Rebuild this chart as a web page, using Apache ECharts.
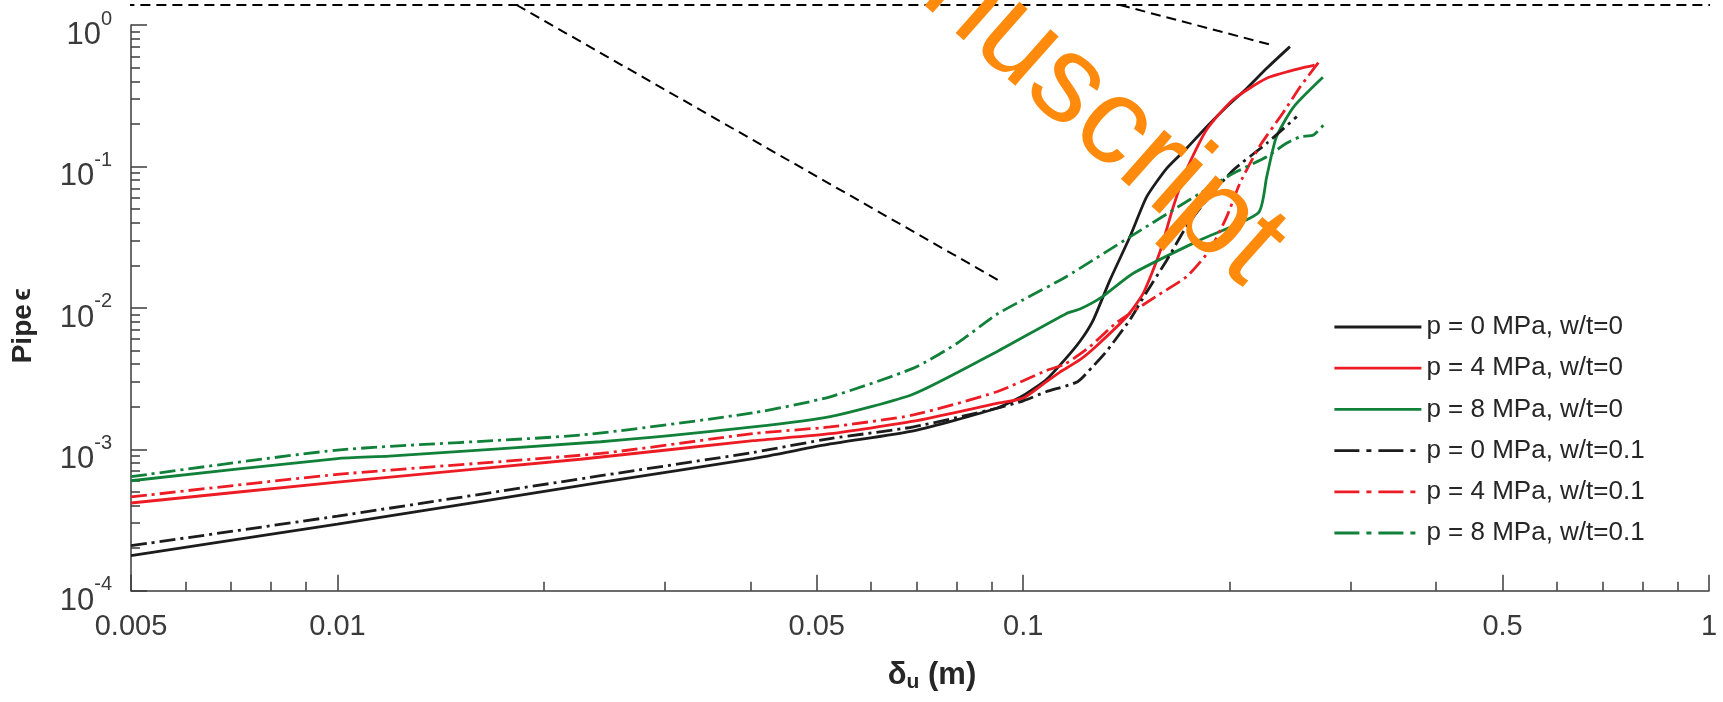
<!DOCTYPE html>
<html><head><meta charset="utf-8">
<script src="https://cdn.jsdelivr.net/npm/echarts@6/dist/echarts.min.js"></script>
<style>html,body{margin:0;padding:0;background:#fff}#c{width:1723px;height:702px}</style>
</head><body><div id="c"></div>
<script>
// ---------- data ----------
const seriesNames = ['p = 0 MPa, w/t=0','p = 4 MPa, w/t=0','p = 8 MPa, w/t=0','p = 0 MPa, w/t=0.1','p = 4 MPa, w/t=0.1','p = 8 MPa, w/t=0.1'];

const p0w0 = [[0.005,1.77e-4],[0.01,2.96e-4],[0.0242,5.83e-4],[0.0404,8.6e-4],[0.0523,1.09e-3],[0.0692,1.35e-3],[0.0915,1.95e-3],[0.1,2.4e-3],[0.108,3.1e-3],[0.115,4.3e-3],[0.121,5.8e-3],[0.1265,8.2e-3],[0.1338,0.0157],[0.1431,0.0318],[0.1514,0.0611],[0.1619,0.097],[0.1731,0.1343],[0.1852,0.191],[0.198,0.264],[0.2118,0.356],[0.2265,0.494],[0.2449,0.703]];
const p4w0 = [[0.005,4.17e-4],[0.01,5.86e-4],[0.0226,8.5e-4],[0.0404,1.15e-3],[0.0523,1.29e-3],[0.0692,1.58e-3],[0.0915,2.11e-3],[0.1,2.3e-3],[0.108,3.0e-3],[0.113,3.5e-3],[0.121,4.3e-3],[0.128,5.4e-3],[0.1415,8.65e-3],[0.1496,0.01265],[0.158,0.0243],[0.1655,0.0519],[0.173,0.0944],[0.185,0.181],[0.202,0.295],[0.2265,0.42],[0.2535,0.494],[0.266,0.521]];
const p8w0 = [[0.005,5.99e-4],[0.01,8.6e-4],[0.0119,8.95e-4],[0.0242,1.13e-3],[0.0404,1.44e-3],[0.0523,1.70e-3],[0.0692,2.46e-3],[0.0915,4.9e-3],[0.1155,9.1e-3],[0.121,9.8e-3],[0.1305,0.012],[0.1445,0.0175],[0.181,0.0302],[0.2203,0.0471],[0.2265,0.0846],[0.234,0.162],[0.248,0.264],[0.2735,0.427]];
const p0w01 = [[0.005,2.08e-4],[0.01,3.37e-4],[0.0242,6.5e-4],[0.0404,9.5e-4],[0.0523,1.19e-3],[0.0692,1.44e-3],[0.0915,1.95e-3],[0.1,2.2e-3],[0.108,2.55e-3],[0.12,3.0e-3],[0.126,3.8e-3],[0.1316,4.78e-3],[0.143,8.2e-3],[0.151,0.0127],[0.162,0.0218],[0.173,0.0375],[0.185,0.0578],[0.2025,0.0944],[0.2265,0.1457],[0.2506,0.225]];
const p4w01 = [[0.005,4.6e-4],[0.01,6.64e-4],[0.0242,9.35e-4],[0.0404,1.29e-3],[0.0523,1.44e-3],[0.0692,1.75e-3],[0.0915,2.55e-3],[0.108,3.6e-3],[0.115,4.0e-3],[0.125,5.3e-3],[0.1365,7.8e-3],[0.156,0.012],[0.173,0.0166],[0.187,0.0256],[0.198,0.044],[0.207,0.076],[0.221,0.138],[0.239,0.2375],[0.2535,0.366],[0.270,0.55]];
const p8w01 = [[0.005,6.4e-4],[0.01,9.87e-4],[0.0226,1.26e-3],[0.0404,1.81e-3],[0.0523,2.35e-3],[0.0692,3.75e-3],[0.08,5.6e-3],[0.0915,9.0e-3],[0.1,0.0114],[0.1155,0.0166],[0.1445,0.0327],[0.181,0.0645],[0.2025,0.0894],[0.2265,0.117],[0.242,0.1457],[0.2535,0.162],[0.265,0.167],[0.2755,0.2017]];

// dashed guide lines (zoom-connector annotation)
const guideTop = [[0.00489,1.385],[1.06,1.385]];
const guideLeft = [[0.01825,1.385],[0.0919,0.01573]];
const guideRight = [[0.1384,1.385],[0.2303,0.722]];

// ticks
const xTickValues = [0.005,0.01,0.05,0.1,0.5,1];
const xTickLabels = ['0.005','0.01','0.05','0.1','0.5','1'];
const xMinorTicks = [0.006,0.007,0.008,0.009,0.02,0.03,0.04,0.06,0.07,0.08,0.09,0.2,0.3,0.4,0.6,0.7,0.8,0.9];
const yTickValues = [1e-4,1e-3,1e-2,1e-1,1];
const yTickExponents = ['-4','-3','-2','-1','0'];
const yMinorTicks = [2e-4,3e-4,4e-4,5e-4,6e-4,7e-4,8e-4,9e-4,2e-3,3e-3,4e-3,5e-3,6e-3,7e-3,8e-3,9e-3,2e-2,3e-2,4e-2,5e-2,6e-2,7e-2,8e-2,9e-2,0.2,0.3,0.4,0.5,0.6,0.7,0.8,0.9];

// ---------- chart ----------
const FONT = '"Liberation Sans", Arial, Helvetica, sans-serif';
const AX = '#3d3d3d';
const BLACK = '#1c1c1c', RED = '#ED1C24', GREEN = '#118039';
const DASHDOT = [16,5,3,5];
const LEG_DASHDOT = [25,7,5,7];
const LW = 2.8;
const colors = [BLACK, RED, GREEN, BLACK, RED, GREEN];
const types = ['solid','solid','solid',DASHDOT,DASHDOT,DASHDOT];
const legTypes = ['solid','solid','solid',LEG_DASHDOT,LEG_DASHDOT,LEG_DASHDOT];
const datas = [p0w0,p4w0,p8w0,p0w01,p4w01,p8w01];

function nearestIdx(arr, v){let b=0,bd=Infinity;arr.forEach((a,i)=>{const d=Math.abs(Math.log10(a)-Math.log10(v));if(d<bd){bd=d;b=i;}});return b;}

const series = datas.map((d,i)=>({
  name: seriesNames[i], type:'line', data:d, symbol:'none', smooth:0.2,
  xAxisIndex:0, yAxisIndex:0,
  lineStyle:{color:colors[i], width:LW, type:types[i]}, itemStyle:{color:colors[i]}, z: 3
}));
[guideTop, guideLeft, guideRight].forEach(g=>series.push({
  type:'line', data:g, symbol:'none', clip:false, silent:true, xAxisIndex:0, yAxisIndex:0,
  lineStyle:{color:'#000', width:2, type:[10,6]}, z: 2
}));

const minorAxisCommon = {
  gridIndex:0, axisLine:{show:false}, axisLabel:{show:false}, splitLine:{show:false},
  axisTick:{show:true, inside:true, length:9, lineStyle:{color:AX, width:1.5}}
};

const option = {
  animation:false,
  backgroundColor:'#fff',
  textStyle:{fontFamily:FONT},
  grid:{left:131, right:14, top:25, bottom:111.3, containLabel:false},
  legend:{
    data: seriesNames.map((n,i)=>({name:n, lineStyle:{color:colors[i], width:LW, type:legTypes[i]}, itemStyle:{opacity:0}})),
    orient:'vertical', left:1328, top:309,
    itemWidth:87, itemHeight:26, itemGap:15.2,
    itemStyle:{opacity:0},
    textStyle:{fontSize:26, color:'#262626', fontFamily:FONT, lineHeight:26}
  },
  xAxis:[{
    type:'log', logBase:10, min:0.005, max:1, gridIndex:0, position:'bottom',
    axisLine:{show:true, lineStyle:{color:AX, width:1.5}},
    axisTick:{show:true, inside:true, length:16, customValues:xTickValues, lineStyle:{color:AX, width:1.5}},
    axisLabel:{customValues:xTickValues, margin:22, fontSize:29, color:'#3a3a3a', fontFamily:FONT,
      formatter:(v)=>xTickLabels[nearestIdx(xTickValues, v)]},
    splitLine:{show:false},
    name:'{d|δ}{u|u}{p| (m)}', nameLocation:'middle', nameGap:68,
    nameTextStyle:{color:'#262626', padding:[0,0,0,24], rich:{
      d:{fontSize:31, fontWeight:'bold', fontFamily:FONT, color:'#262626', lineHeight:34},
      u:{fontSize:21, fontWeight:'bold', fontFamily:FONT, color:'#262626', verticalAlign:'bottom', lineHeight:24, padding:[14,0,0,0]},
      p:{fontSize:31, fontWeight:'bold', fontFamily:FONT, color:'#262626', lineHeight:34}
    }}
  }, Object.assign({type:'log', logBase:10, min:0.005, max:1, position:'bottom'}, minorAxisCommon, {axisTick:Object.assign({}, minorAxisCommon.axisTick, {customValues:xMinorTicks})})],
  yAxis:[{
    type:'log', logBase:10, min:1e-4, max:1, gridIndex:0, position:'left',
    axisLine:{show:true, lineStyle:{color:AX, width:1.5}},
    axisTick:{show:true, inside:true, length:16, customValues:yTickValues, lineStyle:{color:AX, width:1.5}},
    axisLabel:{customValues:yTickValues, margin:19, color:'#3a3a3a', padding:[10,0,0,0],
      formatter:(v)=>'{b|10}{s|' + yTickExponents[nearestIdx(yTickValues, v)] + '}',
      rich:{
        b:{fontSize:31, fontFamily:FONT, color:'#3a3a3a', lineHeight:42, verticalAlign:'bottom'},
        s:{fontSize:20, fontFamily:FONT, color:'#3a3a3a', lineHeight:20, verticalAlign:'top'}
      }},
    splitLine:{show:false},
    name:'{a|Pipe} {e|ϵ}', nameLocation:'middle', nameGap:94, nameRotate:90,
    nameTextStyle:{padding:[0,36,0,0], rich:{
      a:{fontSize:28, fontWeight:'bold', fontFamily:FONT, color:'#262626'},
      e:{fontSize:26, fontWeight:'bold', fontFamily:FONT, color:'#262626'}
    }}
  }, Object.assign({type:'log', logBase:10, min:1e-4, max:1, position:'left'}, minorAxisCommon, {axisTick:Object.assign({}, minorAxisCommon.axisTick, {customValues:yMinorTicks})})],
  series: series,
  graphic:[{
    type:'text', x:1266, y:262, rotation:-0.725, z:100, silent:true,
    style:{text:'Manuscript', fontSize:124, fontFamily:FONT, fill:'#FF8A0B', align:'right', verticalAlign:'middle'}
  }]
};

const chart = echarts.init(document.getElementById('c'), null, {renderer:'canvas', width:1723, height:702});
chart.setOption(option);
</script></body></html>
